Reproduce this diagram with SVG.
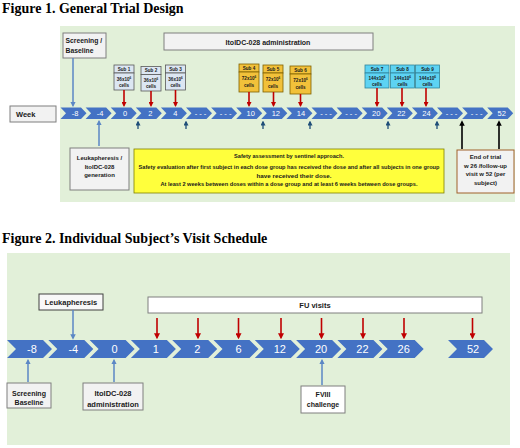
<svg xmlns="http://www.w3.org/2000/svg" xmlns:xlink="http://www.w3.org/1999/xlink" width="520" height="448" viewBox="0 0 520 448">
<style>
.title{font-family:"Liberation Serif","Times New Roman",serif;font-weight:bold;font-size:14px;fill:#000}
.lbl{font-family:"Liberation Sans",Arial,sans-serif;font-weight:bold;fill:#1a1a1a}
.num1{font-family:"Liberation Sans",Arial,sans-serif;font-size:7.5px;fill:#fff;text-anchor:middle}
.num2{font-family:"Liberation Sans",Arial,sans-serif;font-size:11px;fill:#fff;text-anchor:middle}
.chev{fill:#4472C4}
.gbox{fill:#F2F2F2;stroke:#7F7F7F;stroke-width:1}
.wbox{fill:#FFFFFF;stroke:#7F7F7F;stroke-width:1}
.s1{fill:#DCE6F2;stroke:#595959;stroke-width:0.8}
.s2{fill:#F2C13A;stroke:#7F6000;stroke-width:0.8}
.s3{fill:#5DD3F3;stroke:#31849B;stroke-width:0.8}
.sub{font-family:"Liberation Sans",Arial,sans-serif;font-weight:bold;font-size:4.6px;fill:#1a1a1a;text-anchor:middle}
.red{stroke:#C00000;stroke-width:1.6;fill:none}
.blue{stroke:#5B87C5;stroke-width:1.5;fill:none}
.dark{stroke:#1F4E79;stroke-width:1.3;fill:none}
.blk{stroke:#000;stroke-width:1.6;fill:none}
</style>
<defs>
<path id="chev1" d="M0,0 L20.5,0 L26,5.75 L20.5,11.5 L0,11.5 L5.5,5.75 Z"/>
<path id="chev2" d="M0,0 L36,0 L45,9 L36,18 L0,18 L9,9 Z"/>
<marker id="mR" viewBox="0 0 10 10" refX="7" refY="5" markerWidth="5" markerHeight="5" markerUnits="userSpaceOnUse" orient="auto"><path d="M0,0 L10,5 L0,10 Z" fill="#C00000"/></marker>
<marker id="mR2" viewBox="0 0 10 10" refX="7" refY="5" markerWidth="6" markerHeight="6" markerUnits="userSpaceOnUse" orient="auto"><path d="M0,0 L10,5 L0,10 Z" fill="#C00000"/></marker>
<marker id="mB" viewBox="0 0 10 10" refX="7" refY="5" markerWidth="5.5" markerHeight="5.5" markerUnits="userSpaceOnUse" orient="auto"><path d="M0,0 L10,5 L0,10 Z" fill="#5B87C5"/></marker>
<marker id="mD" viewBox="0 0 10 10" refX="7" refY="5" markerWidth="5" markerHeight="5" markerUnits="userSpaceOnUse" orient="auto"><path d="M0,0 L10,5 L0,10 Z" fill="#1F4E79"/></marker>
<marker id="mK" viewBox="0 0 10 10" refX="7" refY="5" markerWidth="5.5" markerHeight="5.5" markerUnits="userSpaceOnUse" orient="auto"><path d="M0,0 L10,5 L0,10 Z" fill="#000"/></marker>
</defs>

<!-- Figure 1 -->
<text class="title" x="2" y="13">Figure 1. General Trial Design</text>
<rect x="60" y="26" width="455" height="176" fill="#E2F0D9"/>

<g id="fig1-timeline">
<use href="#chev1" class="chev" x="60.5" y="107.5"/><text class="num1" x="75" y="116">-8</text>
<use href="#chev1" class="chev" x="85.6" y="107.5"/><text class="num1" x="100.1" y="116">-4</text>
<use href="#chev1" class="chev" x="110.7" y="107.5"/><text class="num1" x="125.2" y="116">0</text>
<use href="#chev1" class="chev" x="135.8" y="107.5"/><text class="num1" x="150.3" y="116">2</text>
<use href="#chev1" class="chev" x="160.9" y="107.5"/><text class="num1" x="175.4" y="116">4</text>
<use href="#chev1" class="chev" x="186" y="107.5"/><text class="num1" x="200.5" y="116">- - -</text>
<use href="#chev1" class="chev" x="211.1" y="107.5"/><text class="num1" x="225.6" y="116">- - -</text>
<use href="#chev1" class="chev" x="236.2" y="107.5"/><text class="num1" x="250.7" y="116">10</text>
<use href="#chev1" class="chev" x="261.3" y="107.5"/><text class="num1" x="275.8" y="116">12</text>
<use href="#chev1" class="chev" x="286.4" y="107.5"/><text class="num1" x="300.9" y="116">14</text>
<use href="#chev1" class="chev" x="311.5" y="107.5"/><text class="num1" x="326" y="116">- - -</text>
<use href="#chev1" class="chev" x="336.6" y="107.5"/><text class="num1" x="351.1" y="116">- - -</text>
<use href="#chev1" class="chev" x="361.7" y="107.5"/><text class="num1" x="376.2" y="116">20</text>
<use href="#chev1" class="chev" x="386.8" y="107.5"/><text class="num1" x="401.3" y="116">22</text>
<use href="#chev1" class="chev" x="411.9" y="107.5"/><text class="num1" x="426.4" y="116">24</text>
<use href="#chev1" class="chev" x="437" y="107.5"/><text class="num1" x="451.5" y="116">- - -</text>
<use href="#chev1" class="chev" x="462.1" y="107.5"/><text class="num1" x="476.6" y="116">- - -</text>
<use href="#chev1" class="chev" x="487.2" y="107.5"/><text class="num1" x="501.7" y="116">52</text>
</g>

<g id="week">
<rect class="gbox" x="10" y="106" width="46" height="16"/>
<text class="lbl" x="16" y="116.5" font-size="7.5">Week</text>
</g>

<g id="screening1">
<rect class="gbox" x="63" y="33" width="43" height="25"/>
<text class="lbl" x="65.5" y="43" font-size="6.8">Screening /</text>
<text class="lbl" x="65.5" y="52.5" font-size="6.8">Baseline</text>
</g>

<g id="admin1">
<rect class="gbox" x="164" y="33" width="209" height="17"/>
<text class="lbl" x="268" y="44.5" font-size="7" text-anchor="middle">ItolDC-028 administration</text>
</g>

<g id="sub1"><rect class="s1" x="114" y="65" width="20" height="8"/><rect class="s1" x="114" y="73" width="20" height="17"/>
<text class="sub" x="124" y="70.6">Sub 1</text><text class="sub" x="124" y="80.5">36x10<tspan dy="-2" font-size="3">6</tspan></text><text class="sub" x="124" y="87">cells</text></g>
<g id="sub2"><rect class="s1" x="141" y="66.5" width="20" height="8"/><rect class="s1" x="141" y="74.5" width="20" height="16.5"/>
<text class="sub" x="151" y="72">Sub 2</text><text class="sub" x="151" y="81.5">36x10<tspan dy="-2" font-size="3">6</tspan></text><text class="sub" x="151" y="88">cells</text></g>
<g id="sub3"><rect class="s1" x="165.5" y="65" width="20" height="8"/><rect class="s1" x="165.5" y="73" width="20" height="17"/>
<text class="sub" x="175.5" y="70.6">Sub 3</text><text class="sub" x="175.5" y="80.5">36x10<tspan dy="-2" font-size="3">6</tspan></text><text class="sub" x="175.5" y="87">cells</text></g>

<g id="sub4"><rect class="s2" x="239" y="64" width="20" height="8"/><rect class="s2" x="239" y="72" width="20" height="20"/>
<text class="sub" x="249" y="69.6">Sub 4</text><text class="sub" x="249" y="80">72x10<tspan dy="-2" font-size="3">6</tspan></text><text class="sub" x="249" y="87">cells</text></g>
<g id="sub5"><rect class="s2" x="263" y="65" width="20" height="8"/><rect class="s2" x="263" y="73" width="20" height="19"/>
<text class="sub" x="273" y="70.6">Sub 5</text><text class="sub" x="273" y="80.5">72x10<tspan dy="-2" font-size="3">6</tspan></text><text class="sub" x="273" y="87.5">cells</text></g>
<g id="sub6"><rect class="s2" x="290" y="66" width="21" height="8"/><rect class="s2" x="290" y="74" width="21" height="20"/>
<text class="sub" x="300.5" y="71.6">Sub 6</text><text class="sub" x="300.5" y="82">72x10<tspan dy="-2" font-size="3">6</tspan></text><text class="sub" x="300.5" y="89">cells</text></g>

<g id="sub7"><rect class="s3" x="365" y="65" width="24" height="8"/><rect class="s3" x="365" y="73" width="24" height="15"/>
<text class="sub" x="377" y="70.6">Sub 7</text><text class="sub" x="377" y="79.5">144x10<tspan dy="-2" font-size="3">6</tspan></text><text class="sub" x="377" y="86">cells</text></g>
<g id="sub8"><rect class="s3" x="390.5" y="65" width="24" height="8"/><rect class="s3" x="390.5" y="73" width="24" height="15"/>
<text class="sub" x="402.5" y="70.6">Sub 8</text><text class="sub" x="402.5" y="79.5">144x10<tspan dy="-2" font-size="3">6</tspan></text><text class="sub" x="402.5" y="86">cells</text></g>
<g id="sub9"><rect class="s3" x="415.5" y="65" width="24" height="8"/><rect class="s3" x="415.5" y="73" width="24" height="15"/>
<text class="sub" x="427.5" y="70.6">Sub 9</text><text class="sub" x="427.5" y="79.5">144x10<tspan dy="-2" font-size="3">6</tspan></text><text class="sub" x="427.5" y="86">cells</text></g>

<g id="leuka1">
<rect class="gbox" x="70" y="148" width="59" height="42"/>
<text class="lbl" x="99.5" y="160" font-size="6" text-anchor="middle">Leukapheresis /</text>
<text class="lbl" x="99.5" y="168.5" font-size="6" text-anchor="middle">ItolDC-028</text>
<text class="lbl" x="99.5" y="177" font-size="6" text-anchor="middle">generation</text>
</g>

<g id="safety">
<rect x="134" y="149" width="310" height="44" fill="#FFFF3C" stroke="#7F7F00" stroke-width="0.8"/>
<text class="lbl" x="289" y="157.5" font-size="5.8" text-anchor="middle" textLength="110" lengthAdjust="spacingAndGlyphs">Safety assessment by sentinel approach.</text>
<text class="lbl" x="289" y="169" font-size="5.8" text-anchor="middle" textLength="301" lengthAdjust="spacingAndGlyphs">Safety evaluation after first subject in each dose group has received the dose and after all subjects in one group</text>
<text class="lbl" x="294" y="177.5" font-size="5.8" text-anchor="middle" textLength="75" lengthAdjust="spacingAndGlyphs">have received their dose.</text>
<text class="lbl" x="289" y="186" font-size="5.8" text-anchor="middle" textLength="257" lengthAdjust="spacingAndGlyphs">At least 2 weeks between doses within a dose group and at least 6 weeks between dose groups.</text>
</g>

<g id="endtrial">
<rect x="457" y="150" width="57" height="43" fill="#F2F2F2" stroke="#A0602A" stroke-width="1"/>
<text class="lbl" x="485.5" y="159" font-size="6" text-anchor="middle">End of trial</text>
<text class="lbl" x="485.5" y="167.5" font-size="6" text-anchor="middle">w 26 /follow-up</text>
<text class="lbl" x="485.5" y="176" font-size="6" text-anchor="middle">visit w 52 (per</text>
<text class="lbl" x="485.5" y="184.5" font-size="6" text-anchor="middle">subject)</text>
</g>

<!-- Figure 2 -->
<text class="title" x="2" y="243">Figure 2. Individual Subject’s Visit Schedule</text>
<rect x="7" y="253" width="503" height="192" fill="#E2F0D9"/>

<g id="fig2-timeline">
<use href="#chev2" class="chev" x="7" y="340"/><text class="num2" x="32" y="353">-8</text>
<use href="#chev2" class="chev" x="48.3" y="340"/><text class="num2" x="73.3" y="353">-4</text>
<use href="#chev2" class="chev" x="89.6" y="340"/><text class="num2" x="114.6" y="353">0</text>
<use href="#chev2" class="chev" x="130.9" y="340"/><text class="num2" x="155.9" y="353">1</text>
<use href="#chev2" class="chev" x="172.2" y="340"/><text class="num2" x="197.2" y="353">2</text>
<use href="#chev2" class="chev" x="213.5" y="340"/><text class="num2" x="238.5" y="353">6</text>
<use href="#chev2" class="chev" x="254.8" y="340"/><text class="num2" x="279.8" y="353">12</text>
<use href="#chev2" class="chev" x="296.1" y="340"/><text class="num2" x="321.1" y="353">20</text>
<use href="#chev2" class="chev" x="337.4" y="340"/><text class="num2" x="362.4" y="353">22</text>
<use href="#chev2" class="chev" x="378.7" y="340"/><text class="num2" x="403.7" y="353">26</text>
<use href="#chev2" class="chev" x="448" y="340"/><text class="num2" x="473" y="353">52</text>
</g>

<g id="leuka2">
<rect x="39" y="294" width="64" height="16" fill="#F8F8F8" stroke="#404040" stroke-width="1"/>
<text class="lbl" x="71" y="305" font-size="7.5" text-anchor="middle">Leukapheresis</text>
</g>

<g id="fu">
<rect class="wbox" x="148" y="297" width="334" height="16"/>
<text class="lbl" x="315" y="308" font-size="7.5" text-anchor="middle">FU visits</text>
</g>

<g id="screening2">
<rect class="gbox" x="7" y="383" width="44" height="25"/>
<text class="lbl" x="29" y="395.5" font-size="7" text-anchor="middle">Screening</text>
<text class="lbl" x="29" y="405" font-size="7" text-anchor="middle">Baseline</text>
</g>

<g id="admin2">
<rect class="gbox" x="83" y="383" width="60" height="27"/>
<text class="lbl" x="113" y="396" font-size="7.5" text-anchor="middle">ItolDC-028</text>
<text class="lbl" x="113" y="406.5" font-size="7.5" text-anchor="middle">administration</text>
</g>

<g id="fviii">
<rect class="wbox" x="301" y="386" width="44" height="27" stroke="#404040"/>
<text class="lbl" x="323" y="397" font-size="7" text-anchor="middle">FVIII</text>
<text class="lbl" x="323" y="407" font-size="7" text-anchor="middle">challenge</text>
</g>

<g id="connectors">
<!-- fig 1 -->
<line class="blue" x1="73" y1="58" x2="73" y2="105.5" marker-end="url(#mB)"/>
<line class="red" x1="124" y1="90" x2="124" y2="105.5" marker-end="url(#mR)"/>
<line class="red" x1="151" y1="91" x2="151" y2="105.5" marker-end="url(#mR)"/>
<line class="red" x1="175.5" y1="90" x2="175.5" y2="105.5" marker-end="url(#mR)"/>
<line class="red" x1="249" y1="92" x2="249" y2="105.5" marker-end="url(#mR)"/>
<line class="red" x1="273.5" y1="92" x2="273.5" y2="105.5" marker-end="url(#mR)"/>
<line class="red" x1="300.5" y1="94" x2="300.5" y2="105.5" marker-end="url(#mR)"/>
<line class="red" x1="377" y1="88" x2="377" y2="105.5" marker-end="url(#mR)"/>
<line class="red" x1="402" y1="88" x2="402" y2="105.5" marker-end="url(#mR)"/>
<line class="red" x1="426" y1="88" x2="426" y2="105.5" marker-end="url(#mR)"/>
<line class="blue" x1="99" y1="146" x2="99" y2="121.5" marker-end="url(#mB)"/>
<line class="dark" x1="138" y1="129" x2="138" y2="122" marker-end="url(#mD)"/>
<line class="dark" x1="186" y1="129" x2="186" y2="122" marker-end="url(#mD)"/>
<line class="dark" x1="263" y1="129" x2="263" y2="122" marker-end="url(#mD)"/>
<line class="dark" x1="310" y1="129" x2="310" y2="122" marker-end="url(#mD)"/>
<line class="dark" x1="388" y1="129" x2="388" y2="122" marker-end="url(#mD)"/>
<line class="dark" x1="437" y1="129" x2="437" y2="122" marker-end="url(#mD)"/>
<line class="blk" x1="462" y1="149" x2="462" y2="122" marker-end="url(#mK)"/>
<line class="blk" x1="499" y1="149" x2="499" y2="122" marker-end="url(#mK)"/>
<!-- fig 2 -->
<line class="blue" x1="73" y1="310" x2="73" y2="338" marker-end="url(#mB)"/>
<line class="red" x1="157" y1="318" x2="157" y2="337.5" marker-end="url(#mR2)"/>
<line class="red" x1="198" y1="318" x2="198" y2="337.5" marker-end="url(#mR2)"/>
<line class="red" x1="238.5" y1="318" x2="238.5" y2="337.5" marker-end="url(#mR2)"/>
<line class="red" x1="281" y1="318" x2="281" y2="337.5" marker-end="url(#mR2)"/>
<line class="red" x1="321.5" y1="318" x2="321.5" y2="337.5" marker-end="url(#mR2)"/>
<line class="red" x1="363" y1="318" x2="363" y2="337.5" marker-end="url(#mR2)"/>
<line class="red" x1="404" y1="318" x2="404" y2="337.5" marker-end="url(#mR2)"/>
<line class="red" x1="472.5" y1="318" x2="472.5" y2="337.5" marker-end="url(#mR2)"/>
<line class="blue" x1="28" y1="382" x2="28" y2="360.5" marker-end="url(#mB)"/>
<line class="blue" x1="114" y1="382" x2="114" y2="360.5" marker-end="url(#mB)"/>
<line class="blue" x1="322" y1="385" x2="322" y2="360.5" marker-end="url(#mB)"/>
</g>
</svg>
